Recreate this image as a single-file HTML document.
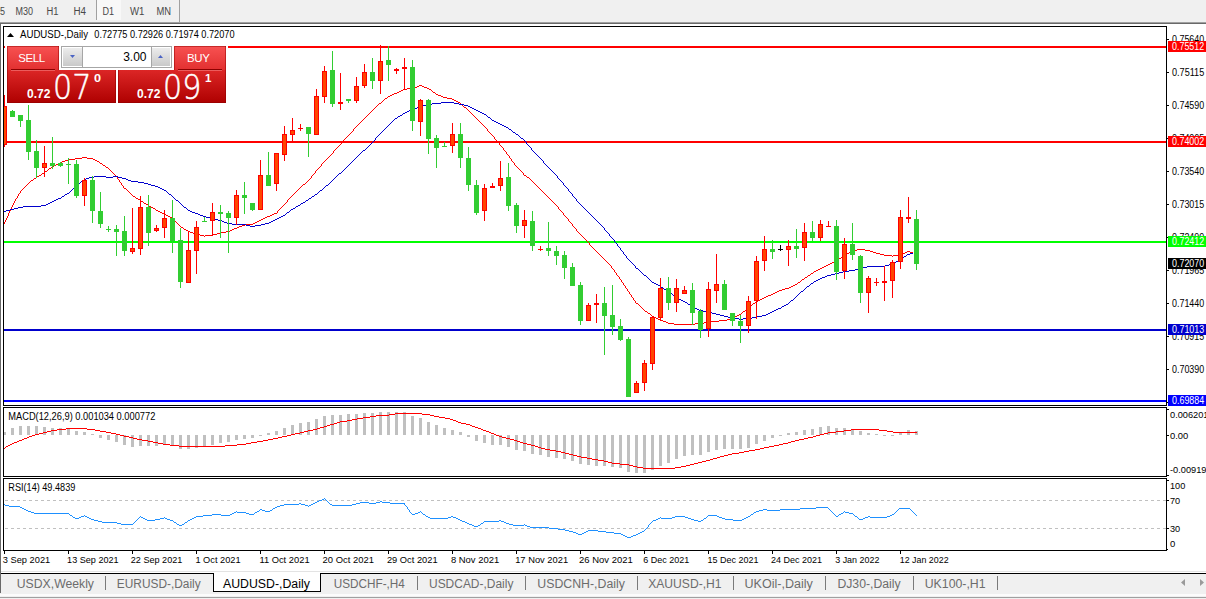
<!DOCTYPE html>
<html><head><meta charset="utf-8"><title>AUDUSD-,Daily</title>
<style>
html,body{margin:0;padding:0}
body{width:1206px;height:599px;overflow:hidden;background:#fff;position:relative;font-family:"Liberation Sans",sans-serif}
#tb{position:absolute;left:0;top:0;width:1206px;height:22px;background:#f0f0f0}
.tf{position:absolute;top:5px;font-size:10px;line-height:12px;color:#3c3c3c;white-space:nowrap}
.vs{position:absolute;top:0;width:1px;background:#a0a0a0}
#d1{position:absolute;left:97px;top:0;width:24px;height:20px;background:#f8f8f8}
svg{position:absolute;left:0;top:0}
svg text{font-family:"Liberation Sans",sans-serif}
#tabs{position:absolute;left:0;top:571px;width:1206px;height:28px;background:#f0f0f0}
.tab{position:absolute;top:6px;font-size:12.5px;line-height:16px;color:#6a6a6a;white-space:nowrap}
.tab.act{color:#000}
.sep{position:absolute;top:5px;width:1px;height:14px;background:#7a7a7a}
#act{position:absolute;left:213px;top:2px;width:106px;height:18px;background:#fff;border:1px solid #000;border-top:none}
/* trade panel */
#tp{position:absolute;left:5px;top:44px;width:223px;height:60px;background:#fff}
#tpi{position:absolute;left:1px;top:0}
.rb{position:absolute;background:linear-gradient(#f85252,#e23030);box-shadow:inset 1px 1px 0 rgba(150,0,0,.5),inset -1px 0 0 rgba(150,0,0,.5)}
.pr{position:absolute;background:linear-gradient(#dc2626,#ae0000);box-shadow:inset 1px 0 0 rgba(140,0,0,.5),inset -1px -1px 0 rgba(140,0,0,.5)}
.w{position:absolute;color:#fff;white-space:nowrap}
</style></head><body>
<div id="tb"><div id="d1"></div><i class="vs" style="left:96px;height:20px"></i><i class="vs" style="left:179px;height:22px"></i></div>
<svg width="1206" height="599" viewBox="0 0 1206 599">
<defs><clipPath id="cm"><rect x="4" y="27" width="1162" height="378"/></clipPath>
<clipPath id="cd"><rect x="4" y="408" width="1162" height="68"/></clipPath>
<clipPath id="cr"><rect x="4" y="479" width="1162" height="71"/></clipPath></defs>
<rect x="0" y="22" width="1206" height="1" fill="#a0a0a0"/><rect x="0" y="23" width="1206" height="1" fill="#696969"/>
<rect x="0" y="23" width="1" height="570" fill="#696969"/>
<g clip-path="url(#cm)">
<rect x="4" y="46" width="1162" height="2" fill="#FF0000"/>
<rect x="4" y="141" width="1162" height="2" fill="#FF0000"/>
<rect x="4" y="241" width="1162" height="2" fill="#00FF00"/>
<rect x="4" y="329" width="1162" height="2" fill="#0000CD"/>
<rect x="4" y="400" width="1162" height="2" fill="#0000FF"/>
<path d="M4 222h1v2h-1zM5 220h1v2h-1zM6 218h1v2h-1zM7 216h1v2h-1zM8 213h1v3h-1zM9 211h1v2h-1zM10 209h1v2h-1zM11 207h1v2h-1zM12 205h1v2h-1zM13 203h1v2h-1zM14 201h1v2h-1zM15 199h1v2h-1zM16 198h1v1h-1zM17 196h1v2h-1zM18 194h1v2h-1zM19 193h1v1h-1zM20 191h1v2h-1zM21 190h1v1h-1zM22 189h1v1h-1zM23 188h1v1h-1zM24 187h1v1h-1zM25 186h1v1h-1zM26 185h1v1h-1zM27 184h1v1h-1zM28 183h1v1h-1zM29 182h1v1h-1zM30 181h1v1h-1zM31 180h2v1h-2zM33 179h1v1h-1zM34 178h2v1h-2zM36 177h1v1h-1zM37 176h2v1h-2zM39 175h2v1h-2zM41 174h1v1h-1zM42 173h2v1h-2zM44 172h1v1h-1zM45 171h2v1h-2zM47 170h1v1h-1zM48 169h1v1h-1zM49 168h2v1h-2zM51 167h1v1h-1zM52 166h2v1h-2zM54 165h2v1h-2zM56 164h2v1h-2zM58 163h2v1h-2zM60 162h2v1h-2zM62 161h3v1h-3zM65 160h4v1h-4zM69 159h6v1h-6zM75 158h7v1h-7zM82 157h5v1h-5zM87 158h6v1h-6zM93 159h2v1h-2zM95 160h2v1h-2zM97 161h2v1h-2zM99 162h1v1h-1zM100 163h2v1h-2zM102 164h1v1h-1zM103 165h2v1h-2zM105 166h1v1h-1zM106 167h2v1h-2zM108 168h1v1h-1zM109 169h1v1h-1zM110 170h1v1h-1zM111 171h1v1h-1zM112 172h1v1h-1zM113 173h1v1h-1zM114 174h1v1h-1zM115 175h1v1h-1zM116 176h1v1h-1zM117 177h1v2h-1zM118 179h1v1h-1zM119 180h1v2h-1zM120 182h1v1h-1zM121 183h1v2h-1zM122 185h1v1h-1zM123 186h1v2h-1zM124 188h2v1h-2zM126 189h1v1h-1zM127 190h1v1h-1zM128 191h1v1h-1zM129 192h1v1h-1zM130 193h1v1h-1zM131 194h1v1h-1zM132 195h1v1h-1zM133 196h2v1h-2zM135 197h1v1h-1zM136 198h2v1h-2zM138 199h2v1h-2zM140 200h1v1h-1zM141 201h2v1h-2zM143 202h1v1h-1zM144 203h2v1h-2zM146 204h2v1h-2zM148 205h1v1h-1zM149 206h2v1h-2zM151 207h2v1h-2zM153 208h2v1h-2zM155 209h1v1h-1zM156 210h2v1h-2zM158 211h2v1h-2zM160 212h2v1h-2zM162 213h2v1h-2zM164 214h2v1h-2zM166 215h2v1h-2zM168 216h2v1h-2zM170 217h2v1h-2zM172 218h1v1h-1zM173 219h1v1h-1zM174 220h1v1h-1zM175 221h1v1h-1zM176 222h1v1h-1zM177 223h1v1h-1zM178 224h1v1h-1zM179 225h1v1h-1zM180 226h1v1h-1zM181 227h2v1h-2zM183 228h1v1h-1zM184 229h2v1h-2zM186 230h2v1h-2zM188 231h2v1h-2zM190 232h3v1h-3zM193 233h3v1h-3zM196 234h4v1h-4zM200 235h4v1h-4zM204 236h1v1h-1zM205 235h8v1h-8zM213 234h4v1h-4zM217 233h4v1h-4zM221 232h5v1h-5zM226 231h4v1h-4zM230 230h2v1h-2zM232 229h2v1h-2zM234 228h3v1h-3zM237 227h2v1h-2zM239 226h3v1h-3zM242 225h3v1h-3zM245 224h8v1h-8zM253 223h2v1h-2zM255 222h2v1h-2zM257 221h2v1h-2zM259 220h2v1h-2zM261 219h2v1h-2zM263 218h2v1h-2zM265 217h2v1h-2zM267 216h3v1h-3zM270 215h2v1h-2zM272 214h2v1h-2zM274 213h3v1h-3zM277 211h1v2h-1zM278 210h1v1h-1zM279 209h1v1h-1zM280 208h1v1h-1zM281 207h1v1h-1zM282 206h1v1h-1zM283 205h1v1h-1zM284 204h1v1h-1zM285 203h1v1h-1zM286 202h1v1h-1zM287 200h1v2h-1zM288 199h1v1h-1zM289 198h1v1h-1zM290 197h1v1h-1zM291 196h1v1h-1zM292 195h1v1h-1zM293 194h1v1h-1zM294 193h1v1h-1zM295 192h1v1h-1zM296 191h1v1h-1zM297 190h1v1h-1zM298 189h1v1h-1zM299 188h1v1h-1zM300 187h1v1h-1zM301 186h1v1h-1zM302 185h1v1h-1zM303 184h2v1h-2zM305 183h1v1h-1zM306 182h1v1h-1zM307 181h1v1h-1zM308 180h1v1h-1zM309 179h1v1h-1zM310 178h1v1h-1zM311 176h1v2h-1zM312 175h1v1h-1zM313 174h1v1h-1zM314 173h1v1h-1zM315 171h1v2h-1zM316 170h1v1h-1zM317 169h1v1h-1zM318 168h1v1h-1zM319 167h1v1h-1zM320 166h1v1h-1zM321 164h1v2h-1zM322 163h1v1h-1zM323 162h1v1h-1zM324 161h1v1h-1zM325 160h1v1h-1zM326 159h1v1h-1zM327 158h1v1h-1zM328 157h1v1h-1zM329 156h1v1h-1zM330 155h1v1h-1zM331 154h1v1h-1zM332 153h1v1h-1zM333 151h1v2h-1zM334 150h1v1h-1zM335 149h1v1h-1zM336 148h1v1h-1zM337 147h1v1h-1zM338 146h1v1h-1zM339 145h1v1h-1zM340 144h1v1h-1zM341 143h1v1h-1zM342 142h1v1h-1zM343 140h1v2h-1zM344 139h1v1h-1zM345 138h1v1h-1zM346 137h1v1h-1zM347 136h1v1h-1zM348 135h1v1h-1zM349 134h1v1h-1zM350 133h1v1h-1zM351 132h1v1h-1zM352 131h1v1h-1zM353 129h1v2h-1zM354 128h1v1h-1zM355 127h1v1h-1zM356 126h1v1h-1zM357 125h1v1h-1zM358 124h1v1h-1zM359 123h1v1h-1zM360 122h1v1h-1zM361 121h1v1h-1zM362 120h1v1h-1zM363 119h1v1h-1zM364 118h1v1h-1zM365 117h1v1h-1zM366 116h1v1h-1zM367 115h1v1h-1zM368 114h1v1h-1zM369 113h1v1h-1zM370 112h1v1h-1zM371 111h1v1h-1zM372 110h1v1h-1zM373 109h1v1h-1zM374 108h1v1h-1zM375 107h1v1h-1zM376 106h1v1h-1zM377 105h1v1h-1zM378 104h1v1h-1zM379 103h2v1h-2zM381 102h1v1h-1zM382 101h1v1h-1zM383 100h1v1h-1zM384 99h1v1h-1zM385 98h2v1h-2zM387 97h1v1h-1zM388 96h2v1h-2zM390 95h2v1h-2zM392 94h2v1h-2zM394 93h3v1h-3zM397 92h2v1h-2zM399 91h2v1h-2zM401 90h2v1h-2zM403 89h4v1h-4zM407 88h7v1h-7zM414 87h3v1h-3zM417 86h2v1h-2zM419 85h3v1h-3zM422 86h2v1h-2zM424 87h3v1h-3zM427 88h2v1h-2zM429 89h2v1h-2zM431 90h1v1h-1zM432 91h1v1h-1zM433 92h2v1h-2zM435 93h1v1h-1zM436 94h2v1h-2zM438 95h3v1h-3zM441 96h2v1h-2zM443 97h4v1h-4zM447 98h5v1h-5zM452 99h2v1h-2zM454 100h2v1h-2zM456 101h2v1h-2zM458 102h2v1h-2zM460 103h1v1h-1zM461 104h1v1h-1zM462 105h1v1h-1zM463 106h1v1h-1zM464 107h2v1h-2zM466 108h1v1h-1zM467 109h1v1h-1zM468 110h1v1h-1zM469 111h1v1h-1zM470 112h1v1h-1zM471 113h1v1h-1zM472 114h1v1h-1zM473 115h1v1h-1zM474 116h1v1h-1zM475 117h1v1h-1zM476 118h1v1h-1zM477 119h1v1h-1zM478 120h1v1h-1zM479 121h1v1h-1zM480 122h1v1h-1zM481 123h1v1h-1zM482 124h1v1h-1zM483 125h1v1h-1zM484 126h1v1h-1zM485 127h1v1h-1zM486 128h1v1h-1zM487 129h1v2h-1zM488 131h1v1h-1zM489 132h1v1h-1zM490 133h1v1h-1zM491 134h1v1h-1zM492 135h1v1h-1zM493 136h1v1h-1zM494 137h1v2h-1zM495 139h1v1h-1zM496 140h1v1h-1zM497 141h1v1h-1zM498 142h1v1h-1zM499 143h1v2h-1zM500 145h1v1h-1zM501 146h1v1h-1zM502 147h1v1h-1zM503 148h1v2h-1zM504 150h1v1h-1zM505 151h1v1h-1zM506 152h1v2h-1zM507 154h1v1h-1zM508 155h1v1h-1zM509 156h1v2h-1zM510 158h1v1h-1zM511 159h1v2h-1zM512 161h1v1h-1zM513 162h1v1h-1zM514 163h1v2h-1zM515 165h1v1h-1zM516 166h1v1h-1zM517 167h1v1h-1zM518 168h1v1h-1zM519 169h1v1h-1zM520 170h1v1h-1zM521 171h1v1h-1zM522 172h1v1h-1zM523 173h1v2h-1zM524 175h2v1h-2zM526 176h1v1h-1zM527 177h2v1h-2zM529 178h1v1h-1zM530 179h1v1h-1zM531 180h1v1h-1zM532 181h1v1h-1zM533 182h1v1h-1zM534 183h1v1h-1zM535 184h1v1h-1zM536 185h1v1h-1zM537 186h1v1h-1zM538 187h1v1h-1zM539 188h1v1h-1zM540 189h1v1h-1zM541 190h1v1h-1zM542 191h1v1h-1zM543 192h1v1h-1zM544 193h1v1h-1zM545 194h1v1h-1zM546 195h1v1h-1zM547 196h1v1h-1zM548 197h1v1h-1zM549 198h1v1h-1zM550 199h1v1h-1zM551 200h1v1h-1zM552 201h1v1h-1zM553 202h1v1h-1zM554 203h1v1h-1zM555 204h1v1h-1zM556 205h1v1h-1zM557 206h1v1h-1zM558 207h1v2h-1zM559 209h1v1h-1zM560 210h1v1h-1zM561 211h1v1h-1zM562 212h1v1h-1zM563 213h1v2h-1zM564 215h1v1h-1zM565 216h1v1h-1zM566 217h1v1h-1zM567 218h1v1h-1zM568 219h1v2h-1zM569 221h1v1h-1zM570 222h1v1h-1zM571 223h1v1h-1zM572 224h1v2h-1zM573 226h1v1h-1zM574 227h1v1h-1zM575 228h1v1h-1zM576 229h1v2h-1zM577 231h1v1h-1zM578 232h1v1h-1zM579 233h1v1h-1zM580 234h1v1h-1zM581 235h1v1h-1zM582 236h1v1h-1zM583 237h1v1h-1zM584 238h1v1h-1zM585 239h1v1h-1zM586 240h1v1h-1zM587 241h1v1h-1zM588 242h1v1h-1zM589 243h1v2h-1zM590 245h1v1h-1zM591 246h1v1h-1zM592 247h1v1h-1zM593 248h1v1h-1zM594 249h1v1h-1zM595 250h1v1h-1zM596 251h1v1h-1zM597 252h1v1h-1zM598 253h1v1h-1zM599 254h1v1h-1zM600 255h1v1h-1zM601 256h1v1h-1zM602 257h1v1h-1zM603 258h1v1h-1zM604 259h1v1h-1zM605 260h1v1h-1zM606 261h1v1h-1zM607 262h1v1h-1zM608 263h1v1h-1zM609 264h1v1h-1zM610 265h1v1h-1zM611 266h1v2h-1zM612 268h1v1h-1zM613 269h1v1h-1zM614 270h1v2h-1zM615 272h1v1h-1zM616 273h1v2h-1zM617 275h1v1h-1zM618 276h1v1h-1zM619 277h1v2h-1zM620 279h1v1h-1zM621 280h1v2h-1zM622 282h1v1h-1zM623 283h1v2h-1zM624 285h1v1h-1zM625 286h1v2h-1zM626 288h1v1h-1zM627 289h1v2h-1zM628 291h1v1h-1zM629 292h1v2h-1zM630 294h1v1h-1zM631 295h1v2h-1zM632 297h1v1h-1zM633 298h1v2h-1zM634 300h1v1h-1zM635 301h1v2h-1zM636 303h2v1h-2zM638 304h1v1h-1zM639 305h1v1h-1zM640 306h1v1h-1zM641 307h1v1h-1zM642 308h1v1h-1zM643 309h1v1h-1zM644 310h1v1h-1zM645 311h2v1h-2zM647 312h1v1h-1zM648 313h2v1h-2zM650 314h1v1h-1zM651 315h1v1h-1zM652 316h2v1h-2zM654 317h2v1h-2zM656 318h2v1h-2zM658 319h2v1h-2zM660 320h3v1h-3zM663 321h3v1h-3zM666 322h2v1h-2zM668 323h6v1h-6zM674 324h21v1h-21zM695 323h9v1h-9zM704 322h6v1h-6zM710 321h9v1h-9zM719 320h8v1h-8zM727 319h4v1h-4zM731 318h2v1h-2zM733 317h2v1h-2zM735 316h2v1h-2zM737 315h2v1h-2zM739 314h2v1h-2zM741 313h1v1h-1zM742 312h1v1h-1zM743 311h2v1h-2zM745 310h1v1h-1zM746 309h1v1h-1zM747 308h2v1h-2zM749 307h1v1h-1zM750 306h1v1h-1zM751 305h1v1h-1zM752 304h1v1h-1zM753 303h2v1h-2zM755 302h1v1h-1zM756 301h2v1h-2zM758 300h2v1h-2zM760 299h2v1h-2zM762 298h2v1h-2zM764 297h2v1h-2zM766 296h2v1h-2zM768 295h3v1h-3zM771 294h2v1h-2zM773 293h2v1h-2zM775 292h2v1h-2zM777 291h2v1h-2zM779 290h3v1h-3zM782 289h3v1h-3zM785 288h4v1h-4zM789 287h2v1h-2zM791 286h2v1h-2zM793 285h2v1h-2zM795 284h2v1h-2zM797 283h1v1h-1zM798 282h2v1h-2zM800 281h1v1h-1zM801 280h1v1h-1zM802 279h2v1h-2zM804 278h1v1h-1zM805 277h2v1h-2zM807 276h1v1h-1zM808 275h2v1h-2zM810 274h1v1h-1zM811 273h2v1h-2zM813 272h1v1h-1zM814 271h2v1h-2zM816 270h2v1h-2zM818 269h2v1h-2zM820 268h2v1h-2zM822 267h2v1h-2zM824 266h2v1h-2zM826 265h2v1h-2zM828 264h2v1h-2zM830 263h2v1h-2zM832 262h2v1h-2zM834 261h2v1h-2zM836 260h1v1h-1zM837 259h2v1h-2zM839 258h2v1h-2zM841 257h1v1h-1zM842 256h2v1h-2zM844 255h1v1h-1zM845 254h2v1h-2zM847 253h2v1h-2zM849 252h2v1h-2zM851 251h2v1h-2zM853 250h4v1h-4zM857 249h8v1h-8zM865 250h5v1h-5zM870 251h3v1h-3zM873 252h3v1h-3zM876 253h4v1h-4zM880 254h4v1h-4zM884 255h8v1h-8zM892 256h1v1h-1zM893 255h5v1h-5zM898 254h4v1h-4zM902 253h3v1h-3zM905 252h2v1h-2zM907 251h3v1h-3zM910 252h3v1h-3z" fill="#FF0000" shape-rendering="crispEdges"/>
<path d="M4 211h2v1h-2zM6 210h4v1h-4zM10 209h4v1h-4zM14 208h4v1h-4zM18 207h5v1h-5zM23 206h18v1h-18zM41 205h5v1h-5zM46 204h2v1h-2zM48 203h2v1h-2zM50 202h2v1h-2zM52 201h2v1h-2zM54 200h2v1h-2zM56 199h2v1h-2zM58 198h3v1h-3zM61 197h1v1h-1zM62 196h2v1h-2zM64 195h1v1h-1zM65 194h2v1h-2zM67 193h2v1h-2zM69 192h1v1h-1zM70 191h1v1h-1zM71 190h1v1h-1zM72 189h1v1h-1zM73 188h1v1h-1zM74 187h1v1h-1zM75 186h1v1h-1zM76 185h1v1h-1zM77 184h2v1h-2zM79 183h1v1h-1zM80 182h1v1h-1zM81 181h1v1h-1zM82 180h2v1h-2zM84 179h2v1h-2zM86 178h3v1h-3zM89 177h5v1h-5zM94 176h12v1h-12zM106 177h7v1h-7zM113 176h5v1h-5zM118 177h4v1h-4zM122 178h4v1h-4zM126 179h2v1h-2zM128 180h3v1h-3zM131 181h7v1h-7zM138 182h6v1h-6zM144 183h4v1h-4zM148 184h3v1h-3zM151 185h4v1h-4zM155 186h3v1h-3zM158 187h2v1h-2zM160 188h2v1h-2zM162 189h2v1h-2zM164 190h2v1h-2zM166 191h1v1h-1zM167 192h1v1h-1zM168 193h1v1h-1zM169 194h2v1h-2zM171 195h1v1h-1zM172 196h1v1h-1zM173 197h1v1h-1zM174 198h1v1h-1zM175 199h1v1h-1zM176 200h2v1h-2zM178 201h1v1h-1zM179 202h1v1h-1zM180 203h1v1h-1zM181 204h1v1h-1zM182 205h1v1h-1zM183 206h1v1h-1zM184 207h2v1h-2zM186 208h1v1h-1zM187 209h1v1h-1zM188 210h2v1h-2zM190 211h2v1h-2zM192 212h3v1h-3zM195 213h3v1h-3zM198 214h2v1h-2zM200 215h3v1h-3zM203 216h3v1h-3zM206 217h4v1h-4zM210 218h4v1h-4zM214 219h4v1h-4zM218 220h4v1h-4zM222 221h2v1h-2zM224 222h3v1h-3zM227 223h5v1h-5zM232 224h14v1h-14zM246 225h4v1h-4zM250 226h5v1h-5zM255 225h6v1h-6zM261 224h4v1h-4zM265 223h4v1h-4zM269 222h2v1h-2zM271 221h2v1h-2zM273 220h2v1h-2zM275 219h2v1h-2zM277 218h2v1h-2zM279 217h2v1h-2zM281 216h2v1h-2zM283 215h2v1h-2zM285 214h1v1h-1zM286 213h1v1h-1zM287 212h2v1h-2zM289 211h1v1h-1zM290 210h1v1h-1zM291 209h2v1h-2zM293 208h2v1h-2zM295 207h1v1h-1zM296 206h2v1h-2zM298 205h2v1h-2zM300 204h1v1h-1zM301 203h2v1h-2zM303 202h2v1h-2zM305 201h1v1h-1zM306 200h2v1h-2zM308 199h1v1h-1zM309 198h2v1h-2zM311 197h1v1h-1zM312 196h2v1h-2zM314 195h1v1h-1zM315 194h2v1h-2zM317 193h1v1h-1zM318 192h1v1h-1zM319 191h1v1h-1zM320 190h2v1h-2zM322 189h1v1h-1zM323 188h1v1h-1zM324 187h1v1h-1zM325 186h1v1h-1zM326 185h2v1h-2zM328 184h1v1h-1zM329 183h1v1h-1zM330 182h1v1h-1zM331 181h1v1h-1zM332 180h1v1h-1zM333 179h1v1h-1zM334 178h1v1h-1zM335 177h1v1h-1zM336 176h1v1h-1zM337 175h1v1h-1zM338 174h1v1h-1zM339 173h2v1h-2zM341 172h1v1h-1zM342 171h1v1h-1zM343 170h1v1h-1zM344 169h1v1h-1zM345 168h1v1h-1zM346 167h1v1h-1zM347 166h1v1h-1zM348 165h1v1h-1zM349 164h1v1h-1zM350 163h1v1h-1zM351 162h1v1h-1zM352 161h1v1h-1zM353 160h1v1h-1zM354 159h1v1h-1zM355 158h1v1h-1zM356 157h1v1h-1zM357 156h1v1h-1zM358 155h1v1h-1zM359 154h1v1h-1zM360 153h1v1h-1zM361 152h1v1h-1zM362 151h1v1h-1zM363 150h2v1h-2zM365 149h1v1h-1zM366 148h1v1h-1zM367 147h1v1h-1zM368 146h1v1h-1zM369 145h1v1h-1zM370 144h1v1h-1zM371 143h1v1h-1zM372 142h1v1h-1zM373 141h1v1h-1zM374 140h1v1h-1zM375 138h1v2h-1zM376 137h1v1h-1zM377 136h1v1h-1zM378 135h1v1h-1zM379 134h1v1h-1zM380 133h1v1h-1zM381 132h1v1h-1zM382 131h1v1h-1zM383 130h1v1h-1zM384 129h1v1h-1zM385 128h1v1h-1zM386 127h1v1h-1zM387 126h1v1h-1zM388 125h1v1h-1zM389 124h1v1h-1zM390 123h1v1h-1zM391 122h1v1h-1zM392 121h1v1h-1zM393 120h1v1h-1zM394 119h1v1h-1zM395 118h2v1h-2zM397 117h1v1h-1zM398 116h2v1h-2zM400 115h2v1h-2zM402 114h1v1h-1zM403 113h2v1h-2zM405 112h2v1h-2zM407 111h2v1h-2zM409 110h2v1h-2zM411 109h3v1h-3zM414 108h3v1h-3zM417 107h2v1h-2zM419 106h4v1h-4zM423 105h4v1h-4zM427 104h5v1h-5zM432 103h9v1h-9zM441 102h13v1h-13zM454 103h5v1h-5zM459 104h5v1h-5zM464 105h4v1h-4zM468 106h2v1h-2zM470 107h2v1h-2zM472 108h2v1h-2zM474 109h2v1h-2zM476 110h2v1h-2zM478 111h2v1h-2zM480 112h2v1h-2zM482 113h2v1h-2zM484 114h2v1h-2zM486 115h1v1h-1zM487 116h1v1h-1zM488 117h2v1h-2zM490 118h1v1h-1zM491 119h1v1h-1zM492 120h2v1h-2zM494 121h2v1h-2zM496 122h2v1h-2zM498 123h2v1h-2zM500 124h2v1h-2zM502 125h2v1h-2zM504 126h2v1h-2zM506 127h2v1h-2zM508 128h1v1h-1zM509 129h2v1h-2zM511 130h1v1h-1zM512 131h1v1h-1zM513 132h2v1h-2zM515 133h1v1h-1zM516 134h2v1h-2zM518 135h1v1h-1zM519 136h1v1h-1zM520 137h1v1h-1zM521 138h2v1h-2zM523 139h1v1h-1zM524 140h1v1h-1zM525 141h1v1h-1zM526 142h1v2h-1zM527 144h1v1h-1zM528 145h1v1h-1zM529 146h1v1h-1zM530 147h1v1h-1zM531 148h1v2h-1zM532 150h1v1h-1zM533 151h1v1h-1zM534 152h1v1h-1zM535 153h1v1h-1zM536 154h1v1h-1zM537 155h1v1h-1zM538 156h1v1h-1zM539 157h1v1h-1zM540 158h1v1h-1zM541 159h1v1h-1zM542 160h1v1h-1zM543 161h1v2h-1zM544 163h1v1h-1zM545 164h1v1h-1zM546 165h1v1h-1zM547 166h1v1h-1zM548 167h1v1h-1zM549 168h1v1h-1zM550 169h1v1h-1zM551 170h1v1h-1zM552 171h1v1h-1zM553 172h1v1h-1zM554 173h1v1h-1zM555 174h1v1h-1zM556 175h1v1h-1zM557 176h1v2h-1zM558 178h1v1h-1zM559 179h1v1h-1zM560 180h1v1h-1zM561 181h1v1h-1zM562 182h1v1h-1zM563 183h1v2h-1zM564 185h1v1h-1zM565 186h1v1h-1zM566 187h1v1h-1zM567 188h1v1h-1zM568 189h1v2h-1zM569 191h1v1h-1zM570 192h1v1h-1zM571 193h1v1h-1zM572 194h1v2h-1zM573 196h1v1h-1zM574 197h1v1h-1zM575 198h1v1h-1zM576 199h1v2h-1zM577 201h1v1h-1zM578 202h1v1h-1zM579 203h1v1h-1zM580 204h1v1h-1zM581 205h1v1h-1zM582 206h1v1h-1zM583 207h1v1h-1zM584 208h1v1h-1zM585 209h1v1h-1zM586 210h1v1h-1zM587 211h1v1h-1zM588 212h1v1h-1zM589 213h1v1h-1zM590 214h1v1h-1zM591 215h1v1h-1zM592 216h1v1h-1zM593 217h1v1h-1zM594 218h1v1h-1zM595 219h1v1h-1zM596 220h1v1h-1zM597 221h1v1h-1zM598 222h1v1h-1zM599 223h1v1h-1zM600 224h1v1h-1zM601 225h1v1h-1zM602 226h1v1h-1zM603 227h1v1h-1zM604 228h1v2h-1zM605 230h1v1h-1zM606 231h1v1h-1zM607 232h1v1h-1zM608 233h1v1h-1zM609 234h1v2h-1zM610 236h1v1h-1zM611 237h1v1h-1zM612 238h1v1h-1zM613 239h1v1h-1zM614 240h1v2h-1zM615 242h1v1h-1zM616 243h1v1h-1zM617 244h1v2h-1zM618 246h1v1h-1zM619 247h1v1h-1zM620 248h1v2h-1zM621 250h1v1h-1zM622 251h1v1h-1zM623 252h1v2h-1zM624 254h1v1h-1zM625 255h1v1h-1zM626 256h1v2h-1zM627 258h1v1h-1zM628 259h1v1h-1zM629 260h1v1h-1zM630 261h1v1h-1zM631 262h1v1h-1zM632 263h1v1h-1zM633 264h1v1h-1zM634 265h1v1h-1zM635 266h1v2h-1zM636 268h2v1h-2zM638 269h1v1h-1zM639 270h1v1h-1zM640 271h1v1h-1zM641 272h1v1h-1zM642 273h1v1h-1zM643 274h1v1h-1zM644 275h2v1h-2zM646 276h1v1h-1zM647 277h1v1h-1zM648 278h1v1h-1zM649 279h1v1h-1zM650 280h1v1h-1zM651 281h1v1h-1zM652 282h2v1h-2zM654 283h2v1h-2zM656 284h2v1h-2zM658 285h2v1h-2zM660 286h1v1h-1zM661 287h2v1h-2zM663 288h1v1h-1zM664 289h2v1h-2zM666 290h2v1h-2zM668 291h1v1h-1zM669 292h1v1h-1zM670 293h2v1h-2zM672 294h1v1h-1zM673 295h1v1h-1zM674 296h1v1h-1zM675 297h1v1h-1zM676 298h3v1h-3zM679 299h2v1h-2zM681 300h2v1h-2zM683 301h2v1h-2zM685 302h2v1h-2zM687 303h1v1h-1zM688 304h2v1h-2zM690 305h2v1h-2zM692 306h1v1h-1zM693 307h2v1h-2zM695 308h2v1h-2zM697 309h2v1h-2zM699 310h4v1h-4zM703 311h5v1h-5zM708 312h4v1h-4zM712 313h4v1h-4zM716 314h4v1h-4zM720 315h4v1h-4zM724 316h4v1h-4zM728 317h4v1h-4zM732 318h7v1h-7zM739 319h4v1h-4zM743 318h9v1h-9zM752 317h5v1h-5zM757 316h5v1h-5zM762 315h4v1h-4zM766 314h2v1h-2zM768 313h2v1h-2zM770 312h2v1h-2zM772 311h2v1h-2zM774 310h2v1h-2zM776 309h2v1h-2zM778 308h3v1h-3zM781 307h1v1h-1zM782 306h2v1h-2zM784 305h2v1h-2zM786 304h2v1h-2zM788 303h1v1h-1zM789 302h1v1h-1zM790 301h1v1h-1zM791 300h2v1h-2zM793 299h1v1h-1zM794 298h1v1h-1zM795 297h1v1h-1zM796 296h1v1h-1zM797 295h1v1h-1zM798 294h1v1h-1zM799 293h1v1h-1zM800 292h1v1h-1zM801 291h2v1h-2zM803 290h1v1h-1zM804 289h1v1h-1zM805 288h1v1h-1zM806 287h1v1h-1zM807 286h2v1h-2zM809 285h1v1h-1zM810 284h1v1h-1zM811 283h2v1h-2zM813 282h1v1h-1zM814 281h2v1h-2zM816 280h2v1h-2zM818 279h2v1h-2zM820 278h2v1h-2zM822 277h3v1h-3zM825 276h2v1h-2zM827 275h4v1h-4zM831 274h4v1h-4zM835 273h4v1h-4zM839 272h4v1h-4zM843 271h6v1h-6zM849 270h6v1h-6zM855 269h4v1h-4zM859 268h4v1h-4zM863 267h4v1h-4zM867 266h18v1h-18zM885 265h4v1h-4zM889 264h4v1h-4zM893 263h1v1h-1zM894 262h2v1h-2zM896 261h2v1h-2zM898 260h1v1h-1zM899 259h2v1h-2zM901 258h1v1h-1zM902 257h2v1h-2zM904 256h2v1h-2zM906 255h1v1h-1zM907 254h3v1h-3zM910 253h3v1h-3z" fill="#0000CD" shape-rendering="crispEdges"/>
<rect x="4" y="95" width="1" height="52" fill="#FF0000"/>
<rect x="2" y="106" width="5" height="39" fill="#FF0000"/>
<rect x="3" y="107" width="3" height="37" fill="#FF4500"/>
<rect x="12" y="110" width="1" height="7" fill="#32CD32"/>
<rect x="10" y="111" width="5" height="6" fill="#32CD32"/>
<rect x="20" y="115" width="1" height="12" fill="#32CD32"/>
<rect x="18" y="115" width="5" height="6" fill="#32CD32"/>
<rect x="28" y="105" width="1" height="55" fill="#32CD32"/>
<rect x="26" y="120" width="5" height="32" fill="#32CD32"/>
<rect x="36" y="140" width="1" height="38" fill="#32CD32"/>
<rect x="34" y="151" width="5" height="17" fill="#32CD32"/>
<rect x="44" y="146" width="1" height="31" fill="#FF0000"/>
<rect x="42" y="163" width="5" height="5" fill="#FF0000"/>
<rect x="43" y="164" width="3" height="3" fill="#FF4500"/>
<rect x="52" y="137" width="1" height="32" fill="#32CD32"/>
<rect x="50" y="163" width="5" height="3" fill="#32CD32"/>
<rect x="60" y="162" width="1" height="5" fill="#32CD32"/>
<rect x="58" y="163" width="5" height="3" fill="#32CD32"/>
<rect x="68" y="158" width="1" height="26" fill="#32CD32"/>
<rect x="66" y="164" width="5" height="1" fill="#32CD32"/>
<rect x="76" y="160" width="1" height="38" fill="#32CD32"/>
<rect x="74" y="164" width="5" height="32" fill="#32CD32"/>
<rect x="84" y="178" width="1" height="28" fill="#FF0000"/>
<rect x="82" y="180" width="5" height="16" fill="#FF0000"/>
<rect x="83" y="181" width="3" height="14" fill="#FF4500"/>
<rect x="92" y="176" width="1" height="47" fill="#32CD32"/>
<rect x="90" y="180" width="5" height="31" fill="#32CD32"/>
<rect x="100" y="192" width="1" height="36" fill="#32CD32"/>
<rect x="98" y="211" width="5" height="13" fill="#32CD32"/>
<rect x="108" y="226" width="1" height="6" fill="#32CD32"/>
<rect x="106" y="229" width="5" height="1" fill="#32CD32"/>
<rect x="116" y="225" width="1" height="31" fill="#32CD32"/>
<rect x="114" y="229" width="5" height="3" fill="#32CD32"/>
<rect x="124" y="216" width="1" height="40" fill="#32CD32"/>
<rect x="122" y="231" width="5" height="20" fill="#32CD32"/>
<rect x="132" y="208" width="1" height="46" fill="#FF0000"/>
<rect x="130" y="248" width="5" height="4" fill="#FF0000"/>
<rect x="131" y="249" width="3" height="2" fill="#FF4500"/>
<rect x="140" y="196" width="1" height="59" fill="#FF0000"/>
<rect x="138" y="207" width="5" height="42" fill="#FF0000"/>
<rect x="139" y="208" width="3" height="40" fill="#FF4500"/>
<rect x="148" y="195" width="1" height="51" fill="#32CD32"/>
<rect x="146" y="207" width="5" height="26" fill="#32CD32"/>
<rect x="156" y="225" width="1" height="7" fill="#FF0000"/>
<rect x="154" y="228" width="5" height="3" fill="#FF0000"/>
<rect x="155" y="229" width="3" height="1" fill="#FF4500"/>
<rect x="164" y="210" width="1" height="28" fill="#FF0000"/>
<rect x="162" y="218" width="5" height="10" fill="#FF0000"/>
<rect x="163" y="219" width="3" height="8" fill="#FF4500"/>
<rect x="172" y="200" width="1" height="53" fill="#32CD32"/>
<rect x="170" y="218" width="5" height="23" fill="#32CD32"/>
<rect x="180" y="228" width="1" height="60" fill="#32CD32"/>
<rect x="178" y="240" width="5" height="42" fill="#32CD32"/>
<rect x="188" y="231" width="1" height="52" fill="#FF0000"/>
<rect x="186" y="250" width="5" height="33" fill="#FF0000"/>
<rect x="187" y="251" width="3" height="31" fill="#FF4500"/>
<rect x="196" y="221" width="1" height="53" fill="#FF0000"/>
<rect x="194" y="227" width="5" height="24" fill="#FF0000"/>
<rect x="195" y="228" width="3" height="22" fill="#FF4500"/>
<rect x="204" y="217" width="1" height="5" fill="#32CD32"/>
<rect x="202" y="221" width="5" height="1" fill="#32CD32"/>
<rect x="212" y="203" width="1" height="33" fill="#FF0000"/>
<rect x="210" y="212" width="5" height="9" fill="#FF0000"/>
<rect x="211" y="213" width="3" height="7" fill="#FF4500"/>
<rect x="220" y="205" width="1" height="33" fill="#32CD32"/>
<rect x="218" y="212" width="5" height="2" fill="#32CD32"/>
<rect x="228" y="211" width="1" height="42" fill="#32CD32"/>
<rect x="226" y="213" width="5" height="5" fill="#32CD32"/>
<rect x="236" y="190" width="1" height="35" fill="#FF0000"/>
<rect x="234" y="195" width="5" height="23" fill="#FF0000"/>
<rect x="235" y="196" width="3" height="21" fill="#FF4500"/>
<rect x="244" y="182" width="1" height="32" fill="#32CD32"/>
<rect x="242" y="195" width="5" height="3" fill="#32CD32"/>
<rect x="252" y="203" width="1" height="8" fill="#32CD32"/>
<rect x="250" y="203" width="5" height="7" fill="#32CD32"/>
<rect x="260" y="160" width="1" height="50" fill="#FF0000"/>
<rect x="258" y="175" width="5" height="35" fill="#FF0000"/>
<rect x="259" y="176" width="3" height="33" fill="#FF4500"/>
<rect x="268" y="152" width="1" height="34" fill="#32CD32"/>
<rect x="266" y="175" width="5" height="11" fill="#32CD32"/>
<rect x="276" y="153" width="1" height="38" fill="#FF0000"/>
<rect x="274" y="153" width="5" height="31" fill="#FF0000"/>
<rect x="275" y="154" width="3" height="29" fill="#FF4500"/>
<rect x="284" y="126" width="1" height="35" fill="#FF0000"/>
<rect x="282" y="134" width="5" height="21" fill="#FF0000"/>
<rect x="283" y="135" width="3" height="19" fill="#FF4500"/>
<rect x="292" y="118" width="1" height="23" fill="#FF0000"/>
<rect x="290" y="130" width="5" height="5" fill="#FF0000"/>
<rect x="291" y="131" width="3" height="3" fill="#FF4500"/>
<rect x="300" y="124" width="1" height="7" fill="#FF0000"/>
<rect x="298" y="128" width="5" height="1" fill="#FF0000"/>
<rect x="308" y="127" width="1" height="30" fill="#32CD32"/>
<rect x="306" y="127" width="5" height="7" fill="#32CD32"/>
<rect x="316" y="89" width="1" height="46" fill="#FF0000"/>
<rect x="314" y="96" width="5" height="39" fill="#FF0000"/>
<rect x="315" y="97" width="3" height="37" fill="#FF4500"/>
<rect x="324" y="66" width="1" height="37" fill="#FF0000"/>
<rect x="322" y="71" width="5" height="26" fill="#FF0000"/>
<rect x="323" y="72" width="3" height="24" fill="#FF4500"/>
<rect x="332" y="51" width="1" height="56" fill="#32CD32"/>
<rect x="330" y="70" width="5" height="34" fill="#32CD32"/>
<rect x="340" y="73" width="1" height="37" fill="#FF0000"/>
<rect x="338" y="102" width="5" height="2" fill="#FF0000"/>
<rect x="348" y="99" width="1" height="4" fill="#32CD32"/>
<rect x="346" y="99" width="5" height="2" fill="#32CD32"/>
<rect x="356" y="77" width="1" height="26" fill="#FF0000"/>
<rect x="354" y="86" width="5" height="15" fill="#FF0000"/>
<rect x="355" y="87" width="3" height="13" fill="#FF4500"/>
<rect x="364" y="64" width="1" height="24" fill="#FF0000"/>
<rect x="362" y="72" width="5" height="14" fill="#FF0000"/>
<rect x="363" y="73" width="3" height="12" fill="#FF4500"/>
<rect x="372" y="58" width="1" height="31" fill="#32CD32"/>
<rect x="370" y="72" width="5" height="9" fill="#32CD32"/>
<rect x="380" y="45" width="1" height="49" fill="#FF0000"/>
<rect x="378" y="61" width="5" height="20" fill="#FF0000"/>
<rect x="379" y="62" width="3" height="18" fill="#FF4500"/>
<rect x="388" y="46" width="1" height="35" fill="#32CD32"/>
<rect x="386" y="60" width="5" height="5" fill="#32CD32"/>
<rect x="396" y="68" width="1" height="6" fill="#FF0000"/>
<rect x="394" y="69" width="5" height="2" fill="#FF0000"/>
<rect x="404" y="58" width="1" height="31" fill="#FF0000"/>
<rect x="402" y="67" width="5" height="2" fill="#FF0000"/>
<rect x="412" y="60" width="1" height="71" fill="#32CD32"/>
<rect x="410" y="67" width="5" height="54" fill="#32CD32"/>
<rect x="420" y="99" width="1" height="37" fill="#FF0000"/>
<rect x="418" y="100" width="5" height="22" fill="#FF0000"/>
<rect x="419" y="101" width="3" height="20" fill="#FF4500"/>
<rect x="428" y="99" width="1" height="55" fill="#32CD32"/>
<rect x="426" y="100" width="5" height="39" fill="#32CD32"/>
<rect x="436" y="135" width="1" height="33" fill="#32CD32"/>
<rect x="434" y="138" width="5" height="10" fill="#32CD32"/>
<rect x="444" y="142" width="1" height="5" fill="#32CD32"/>
<rect x="442" y="146" width="5" height="1" fill="#32CD32"/>
<rect x="452" y="123" width="1" height="30" fill="#FF0000"/>
<rect x="450" y="134" width="5" height="12" fill="#FF0000"/>
<rect x="451" y="135" width="3" height="10" fill="#FF4500"/>
<rect x="460" y="123" width="1" height="45" fill="#32CD32"/>
<rect x="458" y="134" width="5" height="24" fill="#32CD32"/>
<rect x="468" y="147" width="1" height="44" fill="#32CD32"/>
<rect x="466" y="158" width="5" height="27" fill="#32CD32"/>
<rect x="476" y="180" width="1" height="35" fill="#32CD32"/>
<rect x="474" y="185" width="5" height="28" fill="#32CD32"/>
<rect x="484" y="184" width="1" height="37" fill="#FF0000"/>
<rect x="482" y="188" width="5" height="23" fill="#FF0000"/>
<rect x="483" y="189" width="3" height="21" fill="#FF4500"/>
<rect x="492" y="183" width="1" height="5" fill="#FF0000"/>
<rect x="490" y="186" width="5" height="2" fill="#FF0000"/>
<rect x="500" y="161" width="1" height="30" fill="#FF0000"/>
<rect x="498" y="178" width="5" height="8" fill="#FF0000"/>
<rect x="499" y="179" width="3" height="6" fill="#FF4500"/>
<rect x="508" y="163" width="1" height="48" fill="#32CD32"/>
<rect x="506" y="177" width="5" height="29" fill="#32CD32"/>
<rect x="516" y="203" width="1" height="30" fill="#32CD32"/>
<rect x="514" y="205" width="5" height="21" fill="#32CD32"/>
<rect x="524" y="210" width="1" height="28" fill="#FF0000"/>
<rect x="522" y="220" width="5" height="6" fill="#FF0000"/>
<rect x="523" y="221" width="3" height="4" fill="#FF4500"/>
<rect x="532" y="211" width="1" height="40" fill="#32CD32"/>
<rect x="530" y="221" width="5" height="25" fill="#32CD32"/>
<rect x="540" y="246" width="1" height="5" fill="#FF0000"/>
<rect x="538" y="249" width="5" height="1" fill="#FF0000"/>
<rect x="548" y="222" width="1" height="34" fill="#32CD32"/>
<rect x="546" y="248" width="5" height="3" fill="#32CD32"/>
<rect x="556" y="246" width="1" height="19" fill="#32CD32"/>
<rect x="554" y="251" width="5" height="5" fill="#32CD32"/>
<rect x="564" y="251" width="1" height="28" fill="#32CD32"/>
<rect x="562" y="255" width="5" height="13" fill="#32CD32"/>
<rect x="572" y="263" width="1" height="23" fill="#32CD32"/>
<rect x="570" y="267" width="5" height="19" fill="#32CD32"/>
<rect x="580" y="282" width="1" height="43" fill="#32CD32"/>
<rect x="578" y="285" width="5" height="36" fill="#32CD32"/>
<rect x="588" y="303" width="1" height="18" fill="#FF0000"/>
<rect x="586" y="305" width="5" height="16" fill="#FF0000"/>
<rect x="587" y="306" width="3" height="14" fill="#FF4500"/>
<rect x="596" y="294" width="1" height="29" fill="#FF0000"/>
<rect x="594" y="303" width="5" height="2" fill="#FF0000"/>
<rect x="604" y="287" width="1" height="68" fill="#32CD32"/>
<rect x="602" y="303" width="5" height="13" fill="#32CD32"/>
<rect x="612" y="285" width="1" height="50" fill="#32CD32"/>
<rect x="610" y="315" width="5" height="12" fill="#32CD32"/>
<rect x="620" y="319" width="1" height="22" fill="#32CD32"/>
<rect x="618" y="326" width="5" height="14" fill="#32CD32"/>
<rect x="628" y="337" width="1" height="60" fill="#32CD32"/>
<rect x="626" y="339" width="5" height="58" fill="#32CD32"/>
<rect x="636" y="381" width="1" height="12" fill="#FF0000"/>
<rect x="634" y="383" width="5" height="10" fill="#FF0000"/>
<rect x="635" y="384" width="3" height="8" fill="#FF4500"/>
<rect x="644" y="360" width="1" height="31" fill="#FF0000"/>
<rect x="642" y="363" width="5" height="20" fill="#FF0000"/>
<rect x="643" y="364" width="3" height="18" fill="#FF4500"/>
<rect x="652" y="316" width="1" height="54" fill="#FF0000"/>
<rect x="650" y="317" width="5" height="47" fill="#FF0000"/>
<rect x="651" y="318" width="3" height="45" fill="#FF4500"/>
<rect x="660" y="278" width="1" height="43" fill="#FF0000"/>
<rect x="658" y="288" width="5" height="30" fill="#FF0000"/>
<rect x="659" y="289" width="3" height="28" fill="#FF4500"/>
<rect x="668" y="277" width="1" height="33" fill="#32CD32"/>
<rect x="666" y="288" width="5" height="15" fill="#32CD32"/>
<rect x="676" y="279" width="1" height="33" fill="#FF0000"/>
<rect x="674" y="288" width="5" height="15" fill="#FF0000"/>
<rect x="675" y="289" width="3" height="13" fill="#FF4500"/>
<rect x="684" y="286" width="1" height="8" fill="#FF0000"/>
<rect x="682" y="290" width="5" height="4" fill="#FF0000"/>
<rect x="683" y="291" width="3" height="2" fill="#FF4500"/>
<rect x="692" y="283" width="1" height="42" fill="#32CD32"/>
<rect x="690" y="290" width="5" height="23" fill="#32CD32"/>
<rect x="700" y="309" width="1" height="29" fill="#32CD32"/>
<rect x="698" y="311" width="5" height="19" fill="#32CD32"/>
<rect x="708" y="282" width="1" height="55" fill="#FF0000"/>
<rect x="706" y="289" width="5" height="40" fill="#FF0000"/>
<rect x="707" y="290" width="3" height="38" fill="#FF4500"/>
<rect x="716" y="254" width="1" height="49" fill="#FF0000"/>
<rect x="714" y="284" width="5" height="7" fill="#FF0000"/>
<rect x="715" y="285" width="3" height="5" fill="#FF4500"/>
<rect x="724" y="280" width="1" height="30" fill="#32CD32"/>
<rect x="722" y="284" width="5" height="26" fill="#32CD32"/>
<rect x="732" y="313" width="1" height="13" fill="#32CD32"/>
<rect x="730" y="313" width="5" height="8" fill="#32CD32"/>
<rect x="740" y="315" width="1" height="28" fill="#32CD32"/>
<rect x="738" y="321" width="5" height="5" fill="#32CD32"/>
<rect x="748" y="296" width="1" height="37" fill="#FF0000"/>
<rect x="746" y="301" width="5" height="25" fill="#FF0000"/>
<rect x="747" y="302" width="3" height="23" fill="#FF4500"/>
<rect x="756" y="256" width="1" height="63" fill="#FF0000"/>
<rect x="754" y="261" width="5" height="40" fill="#FF0000"/>
<rect x="755" y="262" width="3" height="38" fill="#FF4500"/>
<rect x="764" y="236" width="1" height="35" fill="#FF0000"/>
<rect x="762" y="249" width="5" height="12" fill="#FF0000"/>
<rect x="763" y="250" width="3" height="10" fill="#FF4500"/>
<rect x="772" y="240" width="1" height="19" fill="#32CD32"/>
<rect x="770" y="249" width="5" height="3" fill="#32CD32"/>
<rect x="780" y="245" width="1" height="6" fill="#000"/>
<rect x="778" y="249" width="5" height="1" fill="#000"/>
<rect x="788" y="240" width="1" height="26" fill="#FF0000"/>
<rect x="786" y="246" width="5" height="4" fill="#FF0000"/>
<rect x="787" y="247" width="3" height="2" fill="#FF4500"/>
<rect x="796" y="229" width="1" height="29" fill="#32CD32"/>
<rect x="794" y="246" width="5" height="3" fill="#32CD32"/>
<rect x="804" y="223" width="1" height="38" fill="#FF0000"/>
<rect x="802" y="232" width="5" height="16" fill="#FF0000"/>
<rect x="803" y="233" width="3" height="14" fill="#FF4500"/>
<rect x="812" y="221" width="1" height="20" fill="#32CD32"/>
<rect x="810" y="232" width="5" height="6" fill="#32CD32"/>
<rect x="820" y="220" width="1" height="21" fill="#FF0000"/>
<rect x="818" y="224" width="5" height="14" fill="#FF0000"/>
<rect x="819" y="225" width="3" height="12" fill="#FF4500"/>
<rect x="828" y="221" width="1" height="6" fill="#FF0000"/>
<rect x="826" y="226" width="5" height="1" fill="#FF0000"/>
<rect x="836" y="220" width="1" height="60" fill="#32CD32"/>
<rect x="834" y="226" width="5" height="46" fill="#32CD32"/>
<rect x="844" y="238" width="1" height="41" fill="#FF0000"/>
<rect x="842" y="244" width="5" height="27" fill="#FF0000"/>
<rect x="843" y="245" width="3" height="25" fill="#FF4500"/>
<rect x="852" y="223" width="1" height="37" fill="#32CD32"/>
<rect x="850" y="244" width="5" height="11" fill="#32CD32"/>
<rect x="860" y="255" width="1" height="48" fill="#32CD32"/>
<rect x="858" y="256" width="5" height="37" fill="#32CD32"/>
<rect x="868" y="276" width="1" height="37" fill="#FF0000"/>
<rect x="866" y="278" width="5" height="15" fill="#FF0000"/>
<rect x="867" y="279" width="3" height="13" fill="#FF4500"/>
<rect x="876" y="278" width="1" height="8" fill="#FF0000"/>
<rect x="874" y="282" width="5" height="1" fill="#FF0000"/>
<rect x="884" y="266" width="1" height="35" fill="#FF0000"/>
<rect x="882" y="281" width="5" height="2" fill="#FF0000"/>
<rect x="892" y="260" width="1" height="38" fill="#FF0000"/>
<rect x="890" y="262" width="5" height="19" fill="#FF0000"/>
<rect x="891" y="263" width="3" height="17" fill="#FF4500"/>
<rect x="900" y="210" width="1" height="59" fill="#FF0000"/>
<rect x="898" y="217" width="5" height="45" fill="#FF0000"/>
<rect x="899" y="218" width="3" height="43" fill="#FF4500"/>
<rect x="908" y="197" width="1" height="26" fill="#FF0000"/>
<rect x="906" y="217" width="5" height="2" fill="#FF0000"/>
<rect x="916" y="210" width="1" height="60" fill="#32CD32"/>
<rect x="914" y="219" width="5" height="45" fill="#32CD32"/>
</g>
<g clip-path="url(#cd)">
<rect x="3" y="432" width="3" height="3" fill="#C0C0C0"/>
<rect x="11" y="428" width="3" height="7" fill="#C0C0C0"/>
<rect x="19" y="426" width="3" height="9" fill="#C0C0C0"/>
<rect x="27" y="426" width="3" height="9" fill="#C0C0C0"/>
<rect x="35" y="426" width="3" height="9" fill="#C0C0C0"/>
<rect x="43" y="427" width="3" height="8" fill="#C0C0C0"/>
<rect x="51" y="428" width="3" height="7" fill="#C0C0C0"/>
<rect x="59" y="428" width="3" height="7" fill="#C0C0C0"/>
<rect x="67" y="429" width="3" height="6" fill="#C0C0C0"/>
<rect x="75" y="431" width="3" height="4" fill="#C0C0C0"/>
<rect x="83" y="432" width="3" height="3" fill="#C0C0C0"/>
<rect x="91" y="434" width="3" height="1" fill="#C0C0C0"/>
<rect x="99" y="435" width="3" height="3" fill="#C0C0C0"/>
<rect x="107" y="435" width="3" height="5" fill="#C0C0C0"/>
<rect x="115" y="435" width="3" height="7" fill="#C0C0C0"/>
<rect x="123" y="435" width="3" height="10" fill="#C0C0C0"/>
<rect x="131" y="435" width="3" height="12" fill="#C0C0C0"/>
<rect x="139" y="435" width="3" height="11" fill="#C0C0C0"/>
<rect x="147" y="435" width="3" height="11" fill="#C0C0C0"/>
<rect x="155" y="435" width="3" height="11" fill="#C0C0C0"/>
<rect x="163" y="435" width="3" height="10" fill="#C0C0C0"/>
<rect x="171" y="435" width="3" height="11" fill="#C0C0C0"/>
<rect x="179" y="435" width="3" height="14" fill="#C0C0C0"/>
<rect x="187" y="435" width="3" height="14" fill="#C0C0C0"/>
<rect x="195" y="435" width="3" height="13" fill="#C0C0C0"/>
<rect x="203" y="435" width="3" height="11" fill="#C0C0C0"/>
<rect x="211" y="435" width="3" height="10" fill="#C0C0C0"/>
<rect x="219" y="435" width="3" height="8" fill="#C0C0C0"/>
<rect x="227" y="435" width="3" height="7" fill="#C0C0C0"/>
<rect x="235" y="435" width="3" height="5" fill="#C0C0C0"/>
<rect x="243" y="435" width="3" height="4" fill="#C0C0C0"/>
<rect x="251" y="435" width="3" height="3" fill="#C0C0C0"/>
<rect x="259" y="435" width="3" height="1" fill="#C0C0C0"/>
<rect x="267" y="433" width="3" height="2" fill="#C0C0C0"/>
<rect x="275" y="431" width="3" height="4" fill="#C0C0C0"/>
<rect x="283" y="428" width="3" height="7" fill="#C0C0C0"/>
<rect x="291" y="425" width="3" height="10" fill="#C0C0C0"/>
<rect x="299" y="423" width="3" height="12" fill="#C0C0C0"/>
<rect x="307" y="422" width="3" height="13" fill="#C0C0C0"/>
<rect x="315" y="419" width="3" height="16" fill="#C0C0C0"/>
<rect x="323" y="416" width="3" height="19" fill="#C0C0C0"/>
<rect x="331" y="415" width="3" height="20" fill="#C0C0C0"/>
<rect x="339" y="415" width="3" height="20" fill="#C0C0C0"/>
<rect x="347" y="414" width="3" height="21" fill="#C0C0C0"/>
<rect x="355" y="414" width="3" height="21" fill="#C0C0C0"/>
<rect x="363" y="413" width="3" height="22" fill="#C0C0C0"/>
<rect x="371" y="413" width="3" height="22" fill="#C0C0C0"/>
<rect x="379" y="412" width="3" height="23" fill="#C0C0C0"/>
<rect x="387" y="412" width="3" height="23" fill="#C0C0C0"/>
<rect x="395" y="412" width="3" height="23" fill="#C0C0C0"/>
<rect x="403" y="412" width="3" height="23" fill="#C0C0C0"/>
<rect x="411" y="416" width="3" height="19" fill="#C0C0C0"/>
<rect x="419" y="418" width="3" height="17" fill="#C0C0C0"/>
<rect x="427" y="422" width="3" height="13" fill="#C0C0C0"/>
<rect x="435" y="425" width="3" height="10" fill="#C0C0C0"/>
<rect x="443" y="428" width="3" height="7" fill="#C0C0C0"/>
<rect x="451" y="430" width="3" height="5" fill="#C0C0C0"/>
<rect x="459" y="432" width="3" height="3" fill="#C0C0C0"/>
<rect x="467" y="435" width="3" height="2" fill="#C0C0C0"/>
<rect x="475" y="435" width="3" height="6" fill="#C0C0C0"/>
<rect x="483" y="435" width="3" height="8" fill="#C0C0C0"/>
<rect x="491" y="435" width="3" height="10" fill="#C0C0C0"/>
<rect x="499" y="435" width="3" height="10" fill="#C0C0C0"/>
<rect x="507" y="435" width="3" height="12" fill="#C0C0C0"/>
<rect x="515" y="435" width="3" height="15" fill="#C0C0C0"/>
<rect x="523" y="435" width="3" height="16" fill="#C0C0C0"/>
<rect x="531" y="435" width="3" height="19" fill="#C0C0C0"/>
<rect x="539" y="435" width="3" height="20" fill="#C0C0C0"/>
<rect x="547" y="435" width="3" height="22" fill="#C0C0C0"/>
<rect x="555" y="435" width="3" height="23" fill="#C0C0C0"/>
<rect x="563" y="435" width="3" height="24" fill="#C0C0C0"/>
<rect x="571" y="435" width="3" height="26" fill="#C0C0C0"/>
<rect x="579" y="435" width="3" height="29" fill="#C0C0C0"/>
<rect x="587" y="435" width="3" height="30" fill="#C0C0C0"/>
<rect x="595" y="435" width="3" height="31" fill="#C0C0C0"/>
<rect x="603" y="435" width="3" height="31" fill="#C0C0C0"/>
<rect x="611" y="435" width="3" height="32" fill="#C0C0C0"/>
<rect x="619" y="435" width="3" height="33" fill="#C0C0C0"/>
<rect x="627" y="435" width="3" height="37" fill="#C0C0C0"/>
<rect x="635" y="435" width="3" height="38" fill="#C0C0C0"/>
<rect x="643" y="435" width="3" height="38" fill="#C0C0C0"/>
<rect x="651" y="435" width="3" height="35" fill="#C0C0C0"/>
<rect x="659" y="435" width="3" height="31" fill="#C0C0C0"/>
<rect x="667" y="435" width="3" height="28" fill="#C0C0C0"/>
<rect x="675" y="435" width="3" height="24" fill="#C0C0C0"/>
<rect x="683" y="435" width="3" height="21" fill="#C0C0C0"/>
<rect x="691" y="435" width="3" height="20" fill="#C0C0C0"/>
<rect x="699" y="435" width="3" height="20" fill="#C0C0C0"/>
<rect x="707" y="435" width="3" height="17" fill="#C0C0C0"/>
<rect x="715" y="435" width="3" height="15" fill="#C0C0C0"/>
<rect x="723" y="435" width="3" height="14" fill="#C0C0C0"/>
<rect x="731" y="435" width="3" height="14" fill="#C0C0C0"/>
<rect x="739" y="435" width="3" height="14" fill="#C0C0C0"/>
<rect x="747" y="435" width="3" height="13" fill="#C0C0C0"/>
<rect x="755" y="435" width="3" height="9" fill="#C0C0C0"/>
<rect x="763" y="435" width="3" height="6" fill="#C0C0C0"/>
<rect x="771" y="435" width="3" height="3" fill="#C0C0C0"/>
<rect x="779" y="435" width="3" height="1" fill="#C0C0C0"/>
<rect x="787" y="433" width="3" height="2" fill="#C0C0C0"/>
<rect x="795" y="432" width="3" height="3" fill="#C0C0C0"/>
<rect x="803" y="430" width="3" height="5" fill="#C0C0C0"/>
<rect x="811" y="429" width="3" height="6" fill="#C0C0C0"/>
<rect x="819" y="427" width="3" height="8" fill="#C0C0C0"/>
<rect x="827" y="426" width="3" height="9" fill="#C0C0C0"/>
<rect x="835" y="428" width="3" height="7" fill="#C0C0C0"/>
<rect x="843" y="428" width="3" height="7" fill="#C0C0C0"/>
<rect x="851" y="429" width="3" height="6" fill="#C0C0C0"/>
<rect x="859" y="431" width="3" height="4" fill="#C0C0C0"/>
<rect x="867" y="433" width="3" height="2" fill="#C0C0C0"/>
<rect x="875" y="434" width="3" height="1" fill="#C0C0C0"/>
<rect x="883" y="435" width="3" height="1" fill="#C0C0C0"/>
<rect x="891" y="435" width="3" height="1" fill="#C0C0C0"/>
<rect x="899" y="432" width="3" height="3" fill="#C0C0C0"/>
<rect x="907" y="430" width="3" height="5" fill="#C0C0C0"/>
<rect x="915" y="431" width="3" height="4" fill="#C0C0C0"/>
<path d="M4 448h1v1h-1zM5 447h1v1h-1zM6 446h2v1h-2zM8 445h2v1h-2zM10 444h2v1h-2zM12 443h2v1h-2zM14 442h3v1h-3zM17 441h2v1h-2zM19 440h3v1h-3zM22 439h2v1h-2zM24 438h3v1h-3zM27 437h2v1h-2zM29 436h3v1h-3zM32 435h3v1h-3zM35 434h4v1h-4zM39 433h4v1h-4zM43 432h4v1h-4zM47 431h4v1h-4zM51 430h6v1h-6zM57 429h9v1h-9zM66 428h21v1h-21zM87 429h8v1h-8zM95 430h5v1h-5zM100 431h6v1h-6zM106 432h5v1h-5zM111 433h5v1h-5zM116 434h4v1h-4zM120 435h4v1h-4zM124 436h5v1h-5zM129 437h4v1h-4zM133 438h4v1h-4zM137 439h5v1h-5zM142 440h6v1h-6zM148 441h5v1h-5zM153 442h5v1h-5zM158 443h5v1h-5zM163 444h7v1h-7zM170 445h9v1h-9zM179 446h46v1h-46zM225 445h12v1h-12zM237 444h9v1h-9zM246 443h5v1h-5zM251 442h6v1h-6zM257 441h6v1h-6zM263 440h5v1h-5zM268 439h5v1h-5zM273 438h5v1h-5zM278 437h4v1h-4zM282 436h5v1h-5zM287 435h4v1h-4zM291 434h4v1h-4zM295 433h5v1h-5zM300 432h4v1h-4zM304 431h4v1h-4zM308 430h5v1h-5zM313 429h4v1h-4zM317 428h3v1h-3zM320 427h4v1h-4zM324 426h3v1h-3zM327 425h3v1h-3zM330 424h4v1h-4zM334 423h3v1h-3zM337 422h3v1h-3zM340 421h7v1h-7zM347 420h5v1h-5zM352 419h5v1h-5zM357 418h6v1h-6zM363 417h7v1h-7zM370 416h6v1h-6zM376 415h13v1h-13zM389 414h6v1h-6zM395 413h27v1h-27zM422 414h8v1h-8zM430 415h4v1h-4zM434 416h5v1h-5zM439 417h6v1h-6zM445 418h5v1h-5zM450 419h3v1h-3zM453 420h3v1h-3zM456 421h2v1h-2zM458 422h3v1h-3zM461 423h5v1h-5zM466 424h4v1h-4zM470 425h2v1h-2zM472 426h3v1h-3zM475 427h3v1h-3zM478 428h3v1h-3zM481 429h2v1h-2zM483 430h3v1h-3zM486 431h3v1h-3zM489 432h2v1h-2zM491 433h3v1h-3zM494 434h2v1h-2zM496 435h3v1h-3zM499 436h3v1h-3zM502 437h4v1h-4zM506 438h4v1h-4zM510 439h4v1h-4zM514 440h3v1h-3zM517 441h3v1h-3zM520 442h3v1h-3zM523 443h4v1h-4zM527 444h4v1h-4zM531 445h4v1h-4zM535 446h3v1h-3zM538 447h3v1h-3zM541 448h4v1h-4zM545 449h5v1h-5zM550 450h6v1h-6zM556 451h5v1h-5zM561 452h4v1h-4zM565 453h4v1h-4zM569 454h4v1h-4zM573 455h4v1h-4zM577 456h4v1h-4zM581 457h6v1h-6zM587 458h5v1h-5zM592 459h6v1h-6zM598 460h6v1h-6zM604 461h4v1h-4zM608 462h4v1h-4zM612 463h8v1h-8zM620 464h9v1h-9zM629 465h4v1h-4zM633 466h4v1h-4zM637 467h6v1h-6zM643 468h32v1h-32zM675 467h6v1h-6zM681 466h5v1h-5zM686 465h4v1h-4zM690 464h4v1h-4zM694 463h4v1h-4zM698 462h4v1h-4zM702 461h4v1h-4zM706 460h4v1h-4zM710 459h3v1h-3zM713 458h4v1h-4zM717 457h3v1h-3zM720 456h4v1h-4zM724 455h4v1h-4zM728 454h4v1h-4zM732 453h7v1h-7zM739 452h5v1h-5zM744 451h5v1h-5zM749 450h6v1h-6zM755 449h5v1h-5zM760 448h4v1h-4zM764 447h5v1h-5zM769 446h5v1h-5zM774 445h5v1h-5zM779 444h4v1h-4zM783 443h5v1h-5zM788 442h3v1h-3zM791 441h4v1h-4zM795 440h4v1h-4zM799 439h5v1h-5zM804 438h4v1h-4zM808 437h5v1h-5zM813 436h3v1h-3zM816 435h4v1h-4zM820 434h4v1h-4zM824 433h4v1h-4zM828 432h8v1h-8zM836 431h8v1h-8zM844 430h7v1h-7zM851 429h28v1h-28zM879 430h8v1h-8zM887 431h6v1h-6zM893 432h24v1h-24z" fill="#FF0000" shape-rendering="crispEdges"/>
</g>
<g clip-path="url(#cr)">
<line x1="5" x2="1166" y1="500.5" y2="500.5" stroke="#C0C0C0" stroke-width="1" stroke-dasharray="3 3" shape-rendering="crispEdges"/>
<line x1="5" x2="1166" y1="528.5" y2="528.5" stroke="#C0C0C0" stroke-width="1" stroke-dasharray="3 3" shape-rendering="crispEdges"/>
<path d="M4 504h1v1h-1zM5 505h4v1h-4zM9 506h11v1h-11zM20 507h2v1h-2zM22 508h2v1h-2zM24 509h2v1h-2zM26 510h2v1h-2zM28 511h3v1h-3zM31 512h3v1h-3zM34 513h35v1h-35zM69 514h1v1h-1zM70 515h2v1h-2zM72 516h1v1h-1zM73 517h2v1h-2zM75 518h4v1h-4zM79 517h2v1h-2zM81 516h3v1h-3zM84 515h1v1h-1zM85 516h2v1h-2zM87 517h2v1h-2zM89 518h2v1h-2zM91 519h3v1h-3zM94 520h4v1h-4zM98 521h4v1h-4zM102 522h15v1h-15zM117 523h4v1h-4zM121 524h12v1h-12zM133 523h1v1h-1zM134 522h1v1h-1zM135 521h1v1h-1zM136 520h1v1h-1zM137 519h1v1h-1zM138 518h1v1h-1zM139 517h1v1h-1zM140 516h1v1h-1zM141 517h2v1h-2zM143 518h2v1h-2zM145 519h2v1h-2zM147 520h8v1h-8zM155 519h5v1h-5zM160 518h4v1h-4zM164 517h1v1h-1zM165 518h2v1h-2zM167 519h3v1h-3zM170 520h3v1h-3zM173 521h1v1h-1zM174 522h2v1h-2zM176 523h1v1h-1zM177 524h2v1h-2zM179 525h3v1h-3zM182 524h2v1h-2zM184 523h1v1h-1zM185 522h2v1h-2zM187 521h1v1h-1zM188 520h2v1h-2zM190 519h2v1h-2zM192 518h2v1h-2zM194 517h2v1h-2zM196 516h7v1h-7zM203 515h9v1h-9zM212 514h9v1h-9zM221 515h9v1h-9zM230 514h2v1h-2zM232 513h2v1h-2zM234 512h2v1h-2zM236 511h1v1h-1zM237 512h9v1h-9zM246 513h3v1h-3zM249 514h5v1h-5zM254 513h1v1h-1zM255 512h2v1h-2zM257 511h2v1h-2zM259 510h1v1h-1zM260 509h2v1h-2zM262 510h3v1h-3zM265 511h5v1h-5zM270 510h2v1h-2zM272 509h1v1h-1zM273 508h2v1h-2zM275 507h2v1h-2zM277 506h3v1h-3zM280 505h4v1h-4zM284 504h15v1h-15zM299 503h2v1h-2zM301 504h4v1h-4zM305 505h3v1h-3zM308 506h1v1h-1zM309 505h2v1h-2zM311 504h2v1h-2zM313 503h2v1h-2zM315 502h2v1h-2zM317 501h2v1h-2zM319 500h3v1h-3zM322 499h2v1h-2zM324 498h1v1h-1zM325 499h1v1h-1zM326 500h1v1h-1zM327 501h1v1h-1zM328 502h1v1h-1zM329 503h1v1h-1zM330 504h2v1h-2zM332 505h20v1h-20zM352 504h4v1h-4zM356 503h4v1h-4zM360 502h9v1h-9zM369 503h7v1h-7zM376 502h4v1h-4zM380 501h2v1h-2zM382 502h8v1h-8zM390 503h14v1h-14zM404 503h1v2h-1zM405 505h1v1h-1zM406 506h1v1h-1zM407 507h1v2h-1zM408 509h1v1h-1zM409 510h1v2h-1zM410 512h1v1h-1zM411 513h1v1h-1zM412 514h3v1h-3zM415 513h3v1h-3zM418 512h2v1h-2zM420 511h1v1h-1zM421 512h1v1h-1zM422 513h1v1h-1zM423 514h2v1h-2zM425 515h1v1h-1zM426 516h2v1h-2zM428 517h2v1h-2zM430 518h18v1h-18zM448 517h3v1h-3zM451 516h2v1h-2zM453 517h3v1h-3zM456 518h2v1h-2zM458 519h2v1h-2zM460 520h2v1h-2zM462 521h3v1h-3zM465 522h2v1h-2zM467 523h2v1h-2zM469 524h3v1h-3zM472 525h2v1h-2zM474 526h4v1h-4zM478 525h2v1h-2zM480 524h1v1h-1zM481 523h2v1h-2zM483 522h1v1h-1zM484 521h15v1h-15zM499 520h2v1h-2zM501 521h3v1h-3zM504 522h2v1h-2zM506 523h3v1h-3zM509 524h4v1h-4zM513 525h11v1h-11zM524 524h1v1h-1zM525 525h2v1h-2zM527 526h3v1h-3zM530 527h19v1h-19zM549 528h9v1h-9zM558 529h7v1h-7zM565 530h4v1h-4zM569 531h4v1h-4zM573 532h3v1h-3zM576 533h2v1h-2zM578 534h4v1h-4zM582 533h2v1h-2zM584 532h2v1h-2zM586 531h2v1h-2zM588 530h10v1h-10zM598 531h8v1h-8zM606 532h8v1h-8zM614 533h7v1h-7zM621 534h2v1h-2zM623 535h2v1h-2zM625 536h2v1h-2zM627 537h4v1h-4zM631 536h2v1h-2zM633 535h3v1h-3zM636 534h2v1h-2zM638 533h2v1h-2zM640 532h2v1h-2zM642 531h2v1h-2zM644 530h1v1h-1zM645 529h1v1h-1zM646 528h1v1h-1zM647 527h1v1h-1zM648 525h1v2h-1zM649 524h1v1h-1zM650 523h1v1h-1zM651 522h1v1h-1zM652 521h1v1h-1zM653 520h3v1h-3zM656 519h2v1h-2zM658 518h2v1h-2zM660 517h1v1h-1zM661 518h11v1h-11zM672 517h3v1h-3zM675 516h10v1h-10zM685 517h3v1h-3zM688 518h3v1h-3zM691 519h3v1h-3zM694 520h4v1h-4zM698 521h3v1h-3zM701 520h2v1h-2zM703 519h1v1h-1zM704 518h2v1h-2zM706 517h1v1h-1zM707 516h1v1h-1zM708 515h9v1h-9zM717 516h2v1h-2zM719 517h3v1h-3zM722 518h3v1h-3zM725 519h8v1h-8zM733 520h9v1h-9zM742 519h2v1h-2zM744 518h2v1h-2zM746 517h2v1h-2zM748 516h2v1h-2zM750 515h1v1h-1zM751 514h2v1h-2zM753 513h1v1h-1zM754 512h2v1h-2zM756 511h3v1h-3zM759 510h4v1h-4zM763 509h4v1h-4zM767 510h13v1h-13zM780 509h20v1h-20zM800 508h16v1h-16zM816 507h12v1h-12zM828 508h1v1h-1zM829 509h1v1h-1zM830 510h1v1h-1zM831 511h1v1h-1zM832 512h1v1h-1zM833 513h1v1h-1zM834 514h1v1h-1zM835 515h1v1h-1zM836 516h2v1h-2zM838 515h1v1h-1zM839 514h2v1h-2zM841 513h2v1h-2zM843 512h1v1h-1zM844 511h1v1h-1zM845 512h4v1h-4zM849 513h4v1h-4zM853 514h1v1h-1zM854 515h1v1h-1zM855 516h2v1h-2zM857 517h1v1h-1zM858 518h1v1h-1zM859 519h4v1h-4zM863 518h2v1h-2zM865 517h3v1h-3zM868 516h2v1h-2zM870 517h17v1h-17zM887 516h3v1h-3zM890 515h2v1h-2zM892 514h2v1h-2zM894 513h1v1h-1zM895 512h1v1h-1zM896 511h1v1h-1zM897 510h1v1h-1zM898 509h1v1h-1zM899 508h11v1h-11zM910 509h1v1h-1zM911 510h1v1h-1zM912 511h1v1h-1zM913 512h1v1h-1zM914 513h1v1h-1zM915 514h1v1h-1zM916 515h1v1h-1z" fill="#1E90FF" shape-rendering="crispEdges"/>
</g>
<rect x="3" y="26" width="1164" height="1" fill="#000"/>
<rect x="3" y="405" width="1164" height="1" fill="#000"/>
<rect x="3" y="26" width="1" height="380" fill="#000"/>
<rect x="1166" y="26" width="1" height="380" fill="#000"/>
<rect x="3" y="407" width="1164" height="1" fill="#000"/>
<rect x="3" y="476" width="1164" height="1" fill="#000"/>
<rect x="3" y="407" width="1" height="70" fill="#000"/>
<rect x="1166" y="407" width="1" height="70" fill="#000"/>
<rect x="3" y="478" width="1164" height="1" fill="#000"/>
<rect x="3" y="550" width="1164" height="1" fill="#000"/>
<rect x="3" y="478" width="1" height="73" fill="#000"/>
<rect x="1166" y="478" width="1" height="73" fill="#000"/>
<rect x="1167" y="39" width="2" height="1" fill="#000"/>
<rect x="1167" y="72" width="2" height="1" fill="#000"/>
<rect x="1167" y="105" width="2" height="1" fill="#000"/>
<rect x="1167" y="138" width="2" height="1" fill="#000"/>
<rect x="1167" y="171" width="2" height="1" fill="#000"/>
<rect x="1167" y="204" width="2" height="1" fill="#000"/>
<rect x="1167" y="237" width="2" height="1" fill="#000"/>
<rect x="1167" y="270" width="2" height="1" fill="#000"/>
<rect x="1167" y="303" width="2" height="1" fill="#000"/>
<rect x="1167" y="336" width="2" height="1" fill="#000"/>
<rect x="1167" y="369" width="2" height="1" fill="#000"/>
<rect x="1167" y="402" width="2" height="1" fill="#000"/>
<rect x="1167" y="409" width="2" height="1" fill="#000"/>
<rect x="1167" y="435" width="2" height="1" fill="#000"/>
<rect x="1167" y="475" width="2" height="1" fill="#000"/>
<rect x="1167" y="480" width="2" height="1" fill="#000"/>
<rect x="1167" y="500" width="2" height="1" fill="#000"/>
<rect x="1167" y="528" width="2" height="1" fill="#000"/>
<rect x="1167" y="549" width="1" height="1" fill="#000"/>
<rect x="4" y="551" width="1" height="3" fill="#000"/>
<rect x="68" y="551" width="1" height="3" fill="#000"/>
<rect x="132" y="551" width="1" height="3" fill="#000"/>
<rect x="196" y="551" width="1" height="3" fill="#000"/>
<rect x="260" y="551" width="1" height="3" fill="#000"/>
<rect x="324" y="551" width="1" height="3" fill="#000"/>
<rect x="388" y="551" width="1" height="3" fill="#000"/>
<rect x="452" y="551" width="1" height="3" fill="#000"/>
<rect x="516" y="551" width="1" height="3" fill="#000"/>
<rect x="580" y="551" width="1" height="3" fill="#000"/>
<rect x="644" y="551" width="1" height="3" fill="#000"/>
<rect x="708" y="551" width="1" height="3" fill="#000"/>
<rect x="772" y="551" width="1" height="3" fill="#000"/>
<rect x="836" y="551" width="1" height="3" fill="#000"/>
<rect x="900" y="551" width="1" height="3" fill="#000"/>
<path d="M7 37 L10.5 33 L14 37 Z" fill="#000"/>

</svg>
<div id="tp"><div id="tpi">
 <div class="rb" style="left:1px;top:2px;width:52px;height:24px"></div>
 <div class="rb" style="left:168px;top:2px;width:52px;height:24px"></div>
 <div class="pr" style="left:1px;top:26px;width:109px;height:33px"></div>
 <div class="pr" style="left:112px;top:26px;width:108px;height:33px"></div>
 <i style="position:absolute;left:5px;top:25px;width:44px;height:1px;background:#8c0000"></i>
 <i style="position:absolute;left:172px;top:25px;width:44px;height:1px;background:#8c0000"></i>
 <div class="w" style="left:12.3px;top:7.5px;font-size:11.5px;line-height:12px;letter-spacing:-0.4px">SELL</div>
 <div class="w" style="left:181px;top:7.5px;font-size:11.5px;line-height:12px;letter-spacing:-0.4px">BUY</div>
 <div style="position:absolute;left:55px;top:2px;width:111px;height:22px;border:1px solid #a6a6a6;box-sizing:border-box;background:#fff">
  <div style="position:absolute;left:1px;top:1px;width:19px;height:18px;background:linear-gradient(#ececec,#c9c9c9)"></div>
  <div style="position:absolute;left:20px;top:0;width:1px;height:20px;background:#a6a6a6"></div>
  <div style="position:absolute;left:89px;top:0;width:1px;height:20px;background:#a6a6a6"></div>
  <div style="position:absolute;left:90px;top:1px;width:18px;height:18px;background:linear-gradient(#ececec,#c9c9c9)"></div>
  <svg style="left:8px;top:8px" width="6" height="4"><path d="M0 0H5L2.5 3Z" fill="#4a63c4"/></svg>
  <svg style="left:96px;top:8px" width="6" height="4"><path d="M0 3H5L2.5 0Z" fill="#4a63c4"/></svg>
  <div style="position:absolute;right:24.5px;top:4px;font-size:12px;line-height:13px;color:#000">3.00</div>
 </div>
 <div class="w" style="left:21px;top:44px;font-size:12px;line-height:12px;font-weight:bold">0.72</div>
 <div class="w" style="left:131px;top:44px;font-size:12px;line-height:12px;font-weight:bold">0.72</div>
 <div class="w big" style="left:46.5px;top:24.5px">07</div>
 <div class="w big" style="left:157.3px;top:24.5px">09</div>
 <div class="w" style="left:88px;top:28px;font-size:11.5px;line-height:12px;font-weight:bold;transform:scaleX(1.1);transform-origin:0 0">0</div>
 <div class="w" style="left:199px;top:28px;font-size:11.5px;line-height:12px;font-weight:bold">1</div>
 <i style="position:absolute;left:5px;top:26px;width:44px;height:1px;background:rgba(255,160,160,.45)"></i>
 <i style="position:absolute;left:172px;top:26px;width:44px;height:1px;background:rgba(255,160,160,.45)"></i>
</div></div>
<style>.big{font-family:"DejaVu Sans",sans-serif;font-weight:200;font-size:34px;line-height:36px;transform:scaleX(.885);transform-origin:0 0;-webkit-text-stroke:0.5px #fff}</style>
<div id="tabs">
 <i style="position:absolute;left:0;top:0;width:1206px;height:1px;background:#e3e3e3"></i>
 <i style="position:absolute;left:0;top:1px;width:1206px;height:1px;background:#fff"></i>
 <i style="position:absolute;left:0;top:2px;width:1206px;height:1px;background:#000"></i>
 <i style="position:absolute;left:0;top:0;width:1px;height:22px;background:#696969"></i>
 <i style="position:absolute;left:0;top:23px;width:1206px;height:2px;background:#fcfcfc"></i>
 <i style="position:absolute;left:0;top:26px;width:1206px;height:1px;background:#a0a0a0"></i>
 <div id="act"></div>
 <i class="sep" style="left:105px"></i><i class="sep" style="left:417px"></i><i class="sep" style="left:525px"></i><i class="sep" style="left:637px"></i><i class="sep" style="left:733px"></i><i class="sep" style="left:825px"></i><i class="sep" style="left:913px"></i><i class="sep" style="left:997px"></i>
 <svg style="left:1181px;top:8px" width="24" height="8"><path d="M4 0V7L0 3.5Z M19 0V7L23 3.5Z" fill="#9a9a9a"/></svg>
</div>
<svg width="1206" height="599" viewBox="0 0 1206 599" style="pointer-events:none">
<text x="1172" y="42.5" font-size="10" fill="#000" text-anchor="start" textLength="32.2" lengthAdjust="spacingAndGlyphs">0.75640</text>
<text x="1172" y="75.5" font-size="10" fill="#000" text-anchor="start" textLength="32.2" lengthAdjust="spacingAndGlyphs">0.75115</text>
<text x="1172" y="108.5" font-size="10" fill="#000" text-anchor="start" textLength="32.2" lengthAdjust="spacingAndGlyphs">0.74590</text>
<text x="1172" y="141.5" font-size="10" fill="#000" text-anchor="start" textLength="32.2" lengthAdjust="spacingAndGlyphs">0.74065</text>
<text x="1172" y="174.5" font-size="10" fill="#000" text-anchor="start" textLength="32.2" lengthAdjust="spacingAndGlyphs">0.73540</text>
<text x="1172" y="207.5" font-size="10" fill="#000" text-anchor="start" textLength="32.2" lengthAdjust="spacingAndGlyphs">0.73015</text>
<text x="1172" y="240.5" font-size="10" fill="#000" text-anchor="start" textLength="32.2" lengthAdjust="spacingAndGlyphs">0.72490</text>
<text x="1172" y="273.5" font-size="10" fill="#000" text-anchor="start" textLength="32.2" lengthAdjust="spacingAndGlyphs">0.71965</text>
<text x="1172" y="306.5" font-size="10" fill="#000" text-anchor="start" textLength="32.2" lengthAdjust="spacingAndGlyphs">0.71440</text>
<text x="1172" y="339.5" font-size="10" fill="#000" text-anchor="start" textLength="32.2" lengthAdjust="spacingAndGlyphs">0.70915</text>
<text x="1172" y="372.5" font-size="10" fill="#000" text-anchor="start" textLength="32.2" lengthAdjust="spacingAndGlyphs">0.70390</text>
<text x="1170" y="418" font-size="9.5" fill="#000" text-anchor="start" textLength="38.5" lengthAdjust="spacingAndGlyphs">0.006201</text>
<text x="1170" y="439" font-size="9.5" fill="#000" text-anchor="start" textLength="18.3" lengthAdjust="spacingAndGlyphs">0.00</text>
<text x="1170" y="473" font-size="9.5" fill="#000" text-anchor="start" textLength="36.5" lengthAdjust="spacingAndGlyphs">-0.00919</text>
<text x="1170" y="489" font-size="9.5" fill="#000" text-anchor="start" textLength="15.3" lengthAdjust="spacingAndGlyphs">100</text>
<text x="1170" y="504" font-size="9.5" fill="#000" text-anchor="start" textLength="10.2" lengthAdjust="spacingAndGlyphs">70</text>
<text x="1170" y="532" font-size="9.5" fill="#000" text-anchor="start" textLength="10.2" lengthAdjust="spacingAndGlyphs">30</text>
<text x="1170" y="547" font-size="9.5" fill="#000" text-anchor="start">0</text>
<text x="2.8" y="563" font-size="9" fill="#000" text-anchor="start" textLength="47.4" lengthAdjust="spacingAndGlyphs">3 Sep 2021</text>
<text x="67.1" y="563" font-size="9" fill="#000" text-anchor="start" textLength="51.5" lengthAdjust="spacingAndGlyphs">13 Sep 2021</text>
<text x="130.8" y="563" font-size="9" fill="#000" text-anchor="start" textLength="51.5" lengthAdjust="spacingAndGlyphs">22 Sep 2021</text>
<text x="195.4" y="563" font-size="9" fill="#000" text-anchor="start" textLength="45.2" lengthAdjust="spacingAndGlyphs">1 Oct 2021</text>
<text x="259.4" y="563" font-size="9" fill="#000" text-anchor="start" textLength="50.2" lengthAdjust="spacingAndGlyphs">11 Oct 2021</text>
<text x="322.6" y="563" font-size="9" fill="#000" text-anchor="start" textLength="51.3" lengthAdjust="spacingAndGlyphs">20 Oct 2021</text>
<text x="386.9" y="563" font-size="9" fill="#000" text-anchor="start" textLength="50.7" lengthAdjust="spacingAndGlyphs">29 Oct 2021</text>
<text x="450.9" y="563" font-size="9" fill="#000" text-anchor="start" textLength="48.3" lengthAdjust="spacingAndGlyphs">8 Nov 2021</text>
<text x="515.2" y="563" font-size="9" fill="#000" text-anchor="start" textLength="52.9" lengthAdjust="spacingAndGlyphs">17 Nov 2021</text>
<text x="579.0" y="563" font-size="9" fill="#000" text-anchor="start" textLength="53.7" lengthAdjust="spacingAndGlyphs">26 Nov 2021</text>
<text x="643.2" y="563" font-size="9" fill="#000" text-anchor="start" textLength="46.0" lengthAdjust="spacingAndGlyphs">6 Dec 2021</text>
<text x="707.5" y="563" font-size="9" fill="#000" text-anchor="start" textLength="50.9" lengthAdjust="spacingAndGlyphs">15 Dec 2021</text>
<text x="770.9" y="563" font-size="9" fill="#000" text-anchor="start" textLength="51.0" lengthAdjust="spacingAndGlyphs">24 Dec 2021</text>
<text x="835.2" y="563" font-size="9" fill="#000" text-anchor="start" textLength="44.2" lengthAdjust="spacingAndGlyphs">3 Jan 2022</text>
<text x="899.8" y="563" font-size="9" fill="#000" text-anchor="start" textLength="48.8" lengthAdjust="spacingAndGlyphs">12 Jan 2022</text>
<text x="20" y="38" font-size="10" fill="#000" text-anchor="start" textLength="68" lengthAdjust="spacingAndGlyphs">AUDUSD-,Daily</text>
<text x="94.3" y="38" font-size="10" fill="#000" text-anchor="start" textLength="140.2" lengthAdjust="spacingAndGlyphs">0.72775 0.72926 0.71974 0.72070</text>
<text x="8.3" y="420" font-size="10" fill="#000" text-anchor="start" textLength="147" lengthAdjust="spacingAndGlyphs">MACD(12,26,9) 0.001034 0.000772</text>
<text x="8.3" y="491" font-size="10" fill="#000" text-anchor="start" textLength="67" lengthAdjust="spacingAndGlyphs">RSI(14) 49.4839</text>
<text x="16.8" y="588" font-size="12.5" fill="#6c6c6c" text-anchor="start" textLength="77.2" lengthAdjust="spacingAndGlyphs">USDX,Weekly</text>
<text x="116.8" y="588" font-size="12.5" fill="#6c6c6c" text-anchor="start" textLength="83.9" lengthAdjust="spacingAndGlyphs">EURUSD-,Daily</text>
<text x="223" y="588" font-size="12.5" fill="#000" text-anchor="start" textLength="86.8" lengthAdjust="spacingAndGlyphs">AUDUSD-,Daily</text>
<text x="333.7" y="588" font-size="12.5" fill="#6c6c6c" text-anchor="start" textLength="71.2" lengthAdjust="spacingAndGlyphs">USDCHF-,H4</text>
<text x="429" y="588" font-size="12.5" fill="#6c6c6c" text-anchor="start" textLength="84.4" lengthAdjust="spacingAndGlyphs">USDCAD-,Daily</text>
<text x="537.3" y="588" font-size="12.5" fill="#6c6c6c" text-anchor="start" textLength="87.6" lengthAdjust="spacingAndGlyphs">USDCNH-,Daily</text>
<text x="648.2" y="588" font-size="12.5" fill="#6c6c6c" text-anchor="start" textLength="73.4" lengthAdjust="spacingAndGlyphs">XAUUSD-,H1</text>
<text x="744.5" y="588" font-size="12.5" fill="#6c6c6c" text-anchor="start" textLength="68.3" lengthAdjust="spacingAndGlyphs">UKOil-,Daily</text>
<text x="837.4" y="588" font-size="12.5" fill="#6c6c6c" text-anchor="start" textLength="63.3" lengthAdjust="spacingAndGlyphs">DJ30-,Daily</text>
<text x="924.7" y="588" font-size="12.5" fill="#6c6c6c" text-anchor="start" textLength="60.9" lengthAdjust="spacingAndGlyphs">UK100-,H1</text>
<text x="0" y="14.5" font-size="10" fill="#484848" text-anchor="start" textLength="5" lengthAdjust="spacingAndGlyphs">5</text>
<text x="15.5" y="14.5" font-size="10" fill="#484848" text-anchor="start" textLength="17.5" lengthAdjust="spacingAndGlyphs">M30</text>
<text x="46.5" y="14.5" font-size="10" fill="#484848" text-anchor="start" textLength="12" lengthAdjust="spacingAndGlyphs">H1</text>
<text x="73.5" y="14.5" font-size="10" fill="#484848" text-anchor="start" textLength="12.6" lengthAdjust="spacingAndGlyphs">H4</text>
<text x="102.5" y="14.5" font-size="10" fill="#484848" text-anchor="start" textLength="11.6" lengthAdjust="spacingAndGlyphs">D1</text>
<text x="130" y="14.5" font-size="10" fill="#484848" text-anchor="start" textLength="14.4" lengthAdjust="spacingAndGlyphs">W1</text>
<text x="156.5" y="14.5" font-size="10" fill="#484848" text-anchor="start" textLength="14.6" lengthAdjust="spacingAndGlyphs">MN</text>
<rect x="1168" y="41" width="38" height="11" fill="#FF0000"/>
<text x="1172" y="49.5" font-size="10" fill="#fff" text-anchor="start" textLength="32.2" lengthAdjust="spacingAndGlyphs">0.75512</text>
<rect x="1168" y="136" width="38" height="11" fill="#FF0000"/>
<text x="1172" y="144.5" font-size="10" fill="#fff" text-anchor="start" textLength="32.2" lengthAdjust="spacingAndGlyphs">0.74002</text>
<rect x="1168" y="236" width="38" height="11" fill="#00FF00"/>
<text x="1172" y="244.5" font-size="10" fill="#fff" text-anchor="start" textLength="32.2" lengthAdjust="spacingAndGlyphs">0.72412</text>
<rect x="1168" y="258" width="38" height="11" fill="#000"/>
<text x="1172" y="266.5" font-size="10" fill="#fff" text-anchor="start" textLength="32.2" lengthAdjust="spacingAndGlyphs">0.72070</text>
<rect x="1168" y="324" width="38" height="11" fill="#0000CD"/>
<text x="1172" y="332.5" font-size="10" fill="#fff" text-anchor="start" textLength="32.2" lengthAdjust="spacingAndGlyphs">0.71013</text>
<rect x="1168" y="395" width="38" height="11" fill="#0000FF"/>
<text x="1172" y="403.5" font-size="10" fill="#fff" text-anchor="start" textLength="32.2" lengthAdjust="spacingAndGlyphs">0.69884</text>
</svg>
</body></html>
